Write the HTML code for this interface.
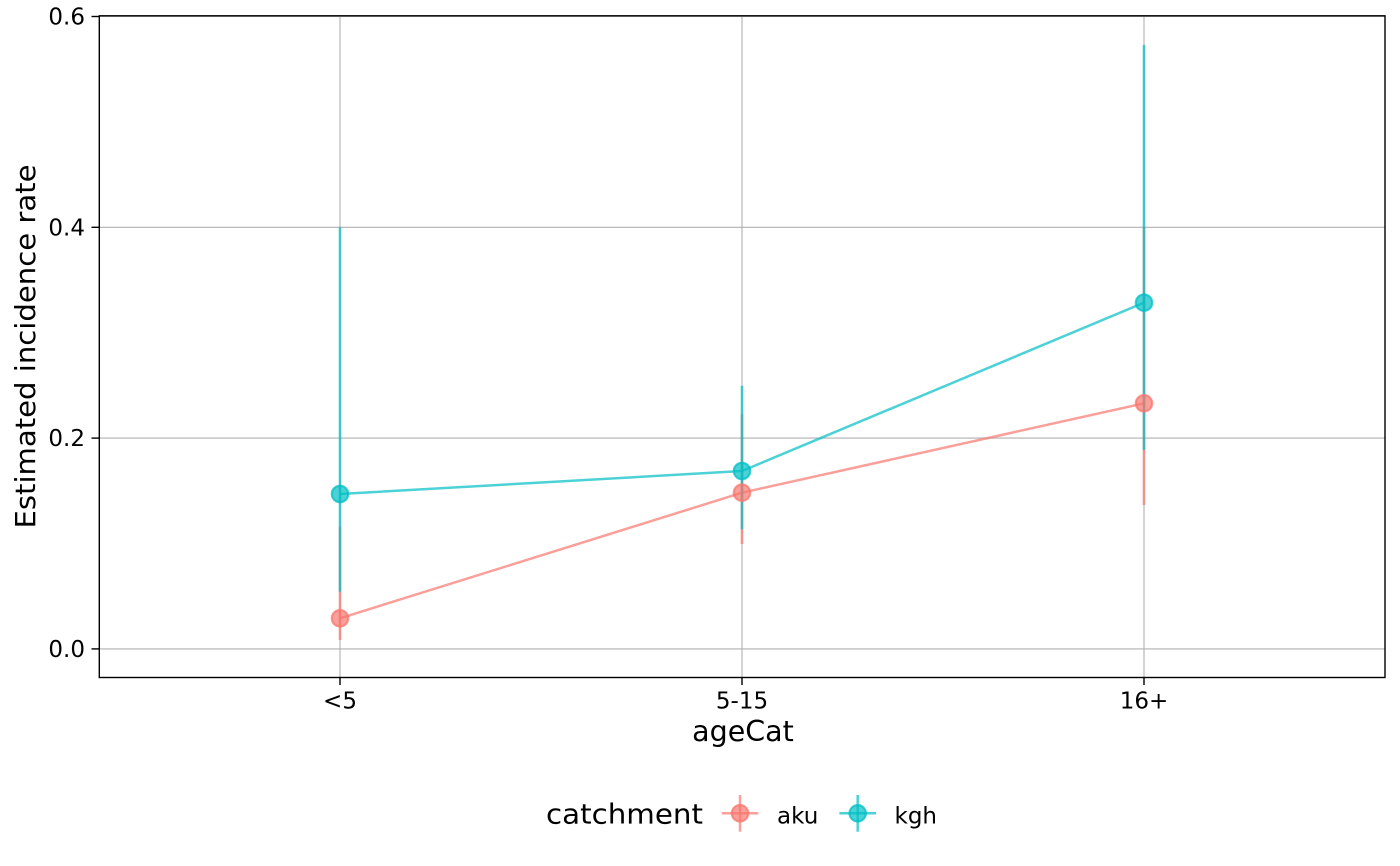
<!DOCTYPE html>
<html><head><meta charset="utf-8"><style>
html,body{margin:0;padding:0;background:#fff;}
svg{display:block;}
text{font-family:"DejaVu Sans","Liberation Sans",sans-serif;fill:#000;}
</style></head><body>
<svg width="1400" height="866" viewBox="0 0 1400 866" xmlns="http://www.w3.org/2000/svg">
<rect x="0" y="0" width="1400" height="866" fill="#fff"/>
<!-- grid -->
<g stroke="#b0b0b0" stroke-width="1.1" fill="none">
<line x1="99.3" y1="648.9" x2="1385" y2="648.9"/>
<line x1="99.3" y1="438.1" x2="1385" y2="438.1"/>
<line x1="99.3" y1="227.3" x2="1385" y2="227.3"/>
<line x1="99.3" y1="16.5" x2="1385" y2="16.5"/>
<line x1="340" y1="15.5" x2="340" y2="677.5"/>
<line x1="742" y1="15.5" x2="742" y2="677.5"/>
<line x1="1144" y1="15.5" x2="1144" y2="677.5"/>
</g>
<!-- connecting lines -->
<g stroke-width="2.5" fill="none" stroke-opacity="0.7" stroke-linejoin="round">
<polyline points="340,618.3 742,492.7 1144,403.3" stroke="#F8766D"/>
<polyline points="340,494 742,471 1144,302.7" stroke="#00BFC4"/>
</g>
<!-- error bars -->
<g stroke-width="2.6" fill="none" stroke-opacity="0.7">
<line x1="340" y1="526.7" x2="340" y2="640" stroke="#F8766D"/>
<line x1="742" y1="414" x2="742" y2="544" stroke="#F8766D"/>
<line x1="1144" y1="226.7" x2="1144" y2="505" stroke="#F8766D"/>
<line x1="340" y1="227.3" x2="340" y2="591.7" stroke="#00BFC4"/>
<line x1="742" y1="385.7" x2="742" y2="529.3" stroke="#00BFC4"/>
<line x1="1144" y1="45" x2="1144" y2="450" stroke="#00BFC4"/>
</g>
<!-- points -->
<g stroke-width="2.2" fill-opacity="0.7" stroke-opacity="0.75">
<circle cx="340" cy="618.3" r="8.2" fill="#F8766D" stroke="#F8766D"/>
<circle cx="742" cy="492.7" r="8.2" fill="#F8766D" stroke="#F8766D"/>
<circle cx="1144" cy="403.3" r="8.2" fill="#F8766D" stroke="#F8766D"/>
<circle cx="340" cy="494" r="8.2" fill="#00BFC4" stroke="#00BFC4"/>
<circle cx="742" cy="471" r="8.2" fill="#00BFC4" stroke="#00BFC4"/>
<circle cx="1144" cy="302.7" r="8.2" fill="#00BFC4" stroke="#00BFC4"/>
</g>
<!-- panel border -->
<rect x="99.3" y="15.8" width="1285.7" height="661.7" fill="none" stroke="#000" stroke-width="1.4"/>
<!-- ticks -->
<g stroke="#000" stroke-width="1.4">
<line x1="91.5" y1="648.9" x2="99.3" y2="648.9"/>
<line x1="91.5" y1="438.1" x2="99.3" y2="438.1"/>
<line x1="91.5" y1="227.3" x2="99.3" y2="227.3"/>
<line x1="91.5" y1="16.5" x2="99.3" y2="16.5"/>
<line x1="340" y1="677.5" x2="340" y2="685"/>
<line x1="742" y1="677.5" x2="742" y2="685"/>
<line x1="1144" y1="677.5" x2="1144" y2="685"/>
</g>
<!-- y tick labels -->
<g font-size="23" text-anchor="end">
<text x="85" y="657">0.0</text>
<text x="85" y="446.2">0.2</text>
<text x="85" y="235.4">0.4</text>
<text x="85" y="24.6">0.6</text>
</g>
<!-- x tick labels -->
<g font-size="23" text-anchor="middle">
<text x="340" y="708.5">&lt;5</text>
<text x="742" y="708.5">5-15</text>
<text x="1144" y="708.5">16+</text>
</g>
<!-- axis titles -->
<text x="743" y="741" font-size="28.5" text-anchor="middle">ageCat</text>
<text transform="translate(35,346.5) rotate(-90)" font-size="28" text-anchor="middle" textLength="364" lengthAdjust="spacingAndGlyphs">Estimated incidence rate</text>
<!-- legend -->
<text x="546" y="823.3" font-size="28" textLength="157" lengthAdjust="spacingAndGlyphs">catchment</text>
<g stroke-width="2.5" stroke-opacity="0.7" fill="none">
<line x1="721.7" y1="813.3" x2="758.3" y2="813.3" stroke="#F8766D"/>
<line x1="740" y1="795" x2="740" y2="831.7" stroke="#F8766D"/>
<line x1="839.4" y1="813.3" x2="876" y2="813.3" stroke="#00BFC4"/>
<line x1="857.7" y1="795" x2="857.7" y2="831.7" stroke="#00BFC4"/>
</g>
<g stroke-width="2.2" fill-opacity="0.7" stroke-opacity="0.75">
<circle cx="740" cy="813.3" r="8.2" fill="#F8766D" stroke="#F8766D"/>
<circle cx="857.7" cy="813.3" r="8.2" fill="#00BFC4" stroke="#00BFC4"/>
</g>
<text x="777" y="823.3" font-size="23">aku</text>
<text x="894.5" y="823.3" font-size="23">kgh</text>
</svg>
</body></html>
